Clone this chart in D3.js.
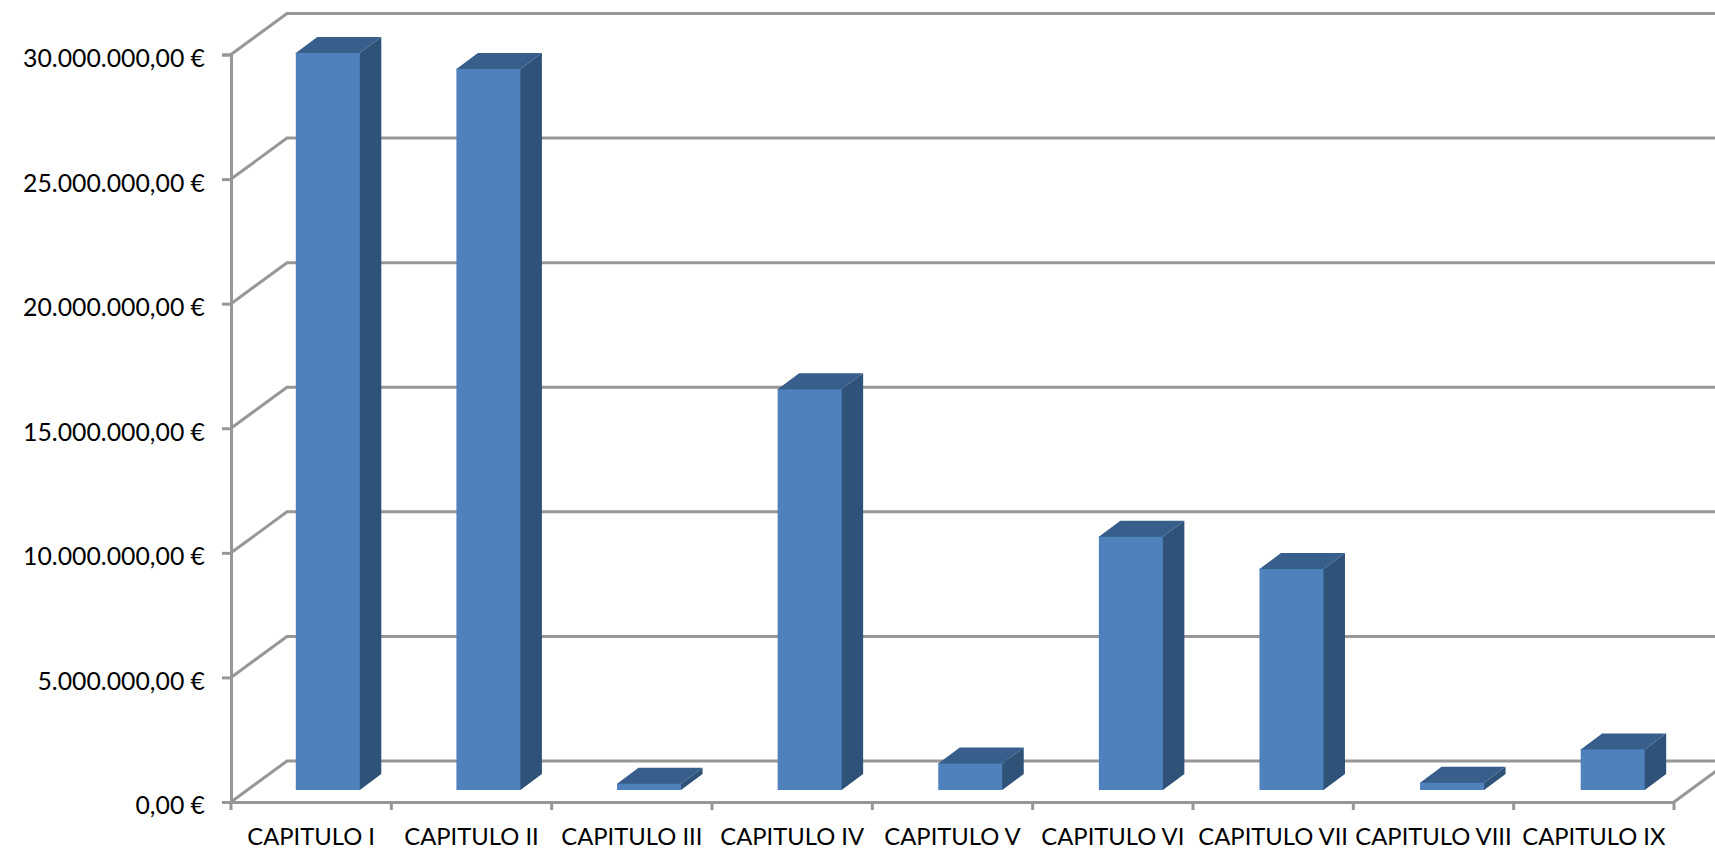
<!DOCTYPE html>
<html>
<head>
<meta charset="utf-8">
<script src="https://cdn.jsdelivr.net/npm/d3@7"></script>
<style>
  html, body { margin: 0; padding: 0; background: #fff; overflow: hidden; }
  svg { display: block; }
  text { font-family: Lato, sans-serif; fill: #000; }
</style>
</head>
<body>
<div id="chart"></div>
<script>
const categories = ['CAPITULO I', 'CAPITULO II', 'CAPITULO III', 'CAPITULO IV', 'CAPITULO V', 'CAPITULO VI', 'CAPITULO VII', 'CAPITULO VIII', 'CAPITULO IX'];
const values = [29580000, 28940000, 250000, 16080000, 1060000, 10160000, 8870000, 290000, 1630000];
const yTicks = [0, 5000000, 10000000, 15000000, 20000000, 25000000, 30000000];

const width = 1715, height = 855;
const plotLeft = 231, plotRight = 1674, plotTop = 54.5, plotBottom = 802;
// 3d look of the excel chart
const wallX = 56, wallY = 41;
const barOffX = 16.5, barOffY = 12;
const barDepthX = 21.5, barDepthY = 16;
const lineColor = '#979797';

const es = d3.formatLocale({ decimal: ',', thousands: '.', grouping: [3], currency: ['', ' €'] });
const fmt = d => es.format(',.2f')(d) + ' €';

const x = d3.scaleBand().domain(categories).range([plotLeft, plotRight]).paddingInner(0).paddingOuter(0);
// bars sit on a slightly wider step than the axis ticks in the original
const xBars = d3.scaleBand().domain(categories).range([plotLeft, plotRight + 2.5]);
const y = d3.scaleLinear().domain([0, 30000000]).range([plotBottom, plotTop]);
const barW = 64;

const svg = d3.select('#chart').append('svg').attr('width', width).attr('height', height);

// gridlines on the back wall and the diagonal side wall
const grid = svg.append('g').attr('stroke', lineColor).attr('stroke-width', 3).attr('fill', 'none');
grid.selectAll('path.wall')
  .data(yTicks)
  .enter().append('path')
  .attr('class', 'wall')
  .attr('d', d => `M${plotLeft},${y(d)}L${plotLeft + wallX},${y(d) - wallY}L${width},${y(d) - wallY}`);

// floor right edge
grid.append('path')
  .attr('d', `M${plotRight},${plotBottom}L${plotRight + wallX},${plotBottom - wallY}`);

// axes
const yAxis = d3.axisLeft(y).tickValues(yTicks).tickFormat(fmt).tickSize(9).tickPadding(17);
const gy = svg.append('g').attr('transform', `translate(${plotLeft},0)`).call(yAxis);
gy.selectAll('text').attr('font-size', 24.8).attr('y', 4).style('font-family', 'Lato, sans-serif');

const xAxis = d3.axisBottom(x).tickSize(0).tickPadding(24);
const gx = svg.append('g').attr('transform', `translate(0,${plotBottom})`).call(xAxis);
gx.selectAll('text').attr('font-size', 23.8).attr('y', 26).style('font-family', 'Lato, sans-serif');

// ticks on the boundaries between categories
gx.selectAll('line.sep')
  .data(d3.range(categories.length + 1))
  .enter().append('line')
  .attr('class', 'sep')
  .attr('x1', i => plotLeft + i * x.bandwidth())
  .attr('x2', i => plotLeft + i * x.bandwidth())
  .attr('y1', 0).attr('y2', 8);

svg.selectAll('.domain, .tick line, line.sep')
  .attr('stroke', lineColor).attr('stroke-width', 3);

// bars
const bars = svg.selectAll('g.bar')
  .data(categories.map((c, i) => ({ c, v: values[i] })))
  .enter().append('g').attr('class', 'bar');

const x0 = d => xBars(d.c) + xBars.bandwidth() / 2 + barOffX - barW / 2;
const yTop = d => y(d.v) - barOffY;
const yBase = y(0) - barOffY;

// side and top run under the front face so no seam shows
bars.append('path')
  .attr('fill', '#2f5279')
  .attr('d', d => {
    const r = x0(d) + barW;
    return `M${r - 1},${yTop(d)}L${r},${yTop(d)}L${r + barDepthX},${yTop(d) - barDepthY}L${r + barDepthX},${yBase - barDepthY}L${r},${yBase}L${r - 1},${yBase}Z`;
  });
bars.append('path')
  .attr('fill', '#385e8b')
  .attr('d', d => {
    const l = x0(d);
    return `M${l},${yTop(d) + 1}L${l},${yTop(d)}L${l + barDepthX},${yTop(d) - barDepthY}L${l + barW + barDepthX},${yTop(d) - barDepthY}L${l + barW},${yTop(d)}L${l + barW},${yTop(d) + 1}Z`;
  });
bars.append('rect')
  .attr('fill', '#4f81bd')
  .attr('x', x0)
  .attr('y', yTop)
  .attr('width', barW)
  .attr('height', d => yBase - yTop(d));
</script>
</body>
</html>
